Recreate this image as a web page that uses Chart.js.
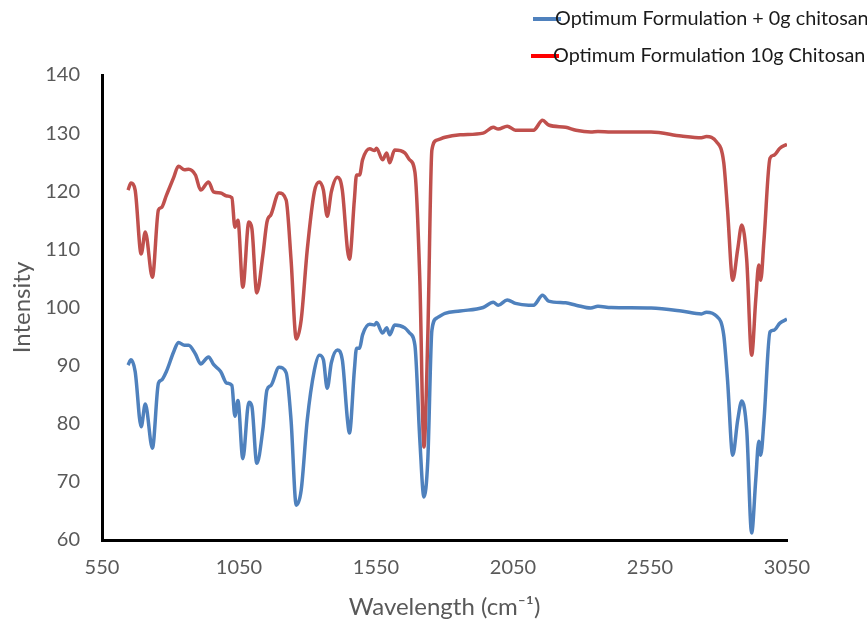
<!DOCTYPE html>
<html>
<head>
<meta charset="utf-8">
<script src="https://cdn.jsdelivr.net/npm/chart.js@4.4.1/dist/chart.umd.min.js"></script>
<style>
  body { margin: 0; background: #fff; }
  #wrap { position: relative; width: 867px; height: 624px; }
  .leg { position: absolute; font-family: Lato, "Open Sans", sans-serif; font-size: 19.8px; color: #1a1a1a; white-space: nowrap; }
  .leg i { position: absolute; height: 4px; width: 28px; left: -22px; top: 12px; }
</style>
</head>
<body>
<div id="wrap">
  <canvas id="FtirChart" width="867" height="624"></canvas>
  <div class="leg" style="left:555px; top:5px;"><i style="background:#4F81BD"></i><span style="position:relative">Optimum Formulation + 0g chitosan</span></div>
  <div class="leg" style="left:553px; top:42px;"><i style="background:#FF0000"></i><span style="position:relative">Optimum Formulation 10g Chitosan</span></div>
</div>
<script>
// wavenumbers
const wavenumbers = [645, 656, 671, 693, 708, 734, 756, 767, 785, 811, 829, 851, 866, 891, 910, 939, 957, 983, 1005, 1024,
  1035, 1046, 1064, 1086, 1097, 1115, 1137, 1152, 1167, 1196, 1222, 1240, 1259, 1277, 1299, 1325, 1343, 1358, 1372, 1387,
  1409, 1427, 1446, 1453, 1471, 1479, 1490, 1501, 1527, 1545, 1552, 1574, 1589, 1600, 1618, 1655, 1673, 1692, 1710, 1725,
  1739, 1754, 1772, 1802, 1857, 1941, 1978, 1996, 2029, 2059, 2107, 2125, 2158, 2180, 2242, 2280, 2334, 2360, 2408, 2554,
  2664, 2738, 2756, 2793, 2819, 2833, 2852, 2870, 2885, 2903, 2921, 2936, 2947, 2954, 2966, 2988, 3002, 3024, 3050];

// Optimum Formulation + 0g chitosan
const blankValues = [90.1, 91, 89, 79.5, 83.4, 75.8, 87, 87.5, 89, 92.3, 94, 93.5, 93.5, 92, 90.3, 91.5, 90.2, 89, 87, 86.6,
  81.3, 84, 74, 83.7, 83, 73.2, 79, 85.8, 86.6, 89.7, 88.8, 80.6, 66, 68.6, 80.6, 89.2, 91.8, 91, 86.1, 90.5,
  92.7, 91, 80.6, 78.4, 89.2, 93, 93, 95.3, 97.1, 97, 97.4, 95.6, 96.5, 95.3, 97, 96.5, 95.6, 93.5, 77.2, 67.4,
  73.7, 96.1, 98.2, 99, 99.4, 100, 100.9, 100.4, 101.3, 100.7, 100.4, 100.4, 102.1, 101.1, 100.8, 100.4, 99.9, 100.2, 100, 99.9,
  99.4, 98.9, 99.2, 98.5, 95.3, 87.5, 74.6, 80.6, 83.9, 78.9, 61.2, 70.4, 77, 74.6, 80.6, 95.8, 96.1, 97.3, 98];

// Optimum Formulation 10g Chitosan
const chitosanValues = [120.2, 121.4, 120.2, 109.2, 113, 105.2, 116.8, 117.2, 119.3, 122.3, 124.3, 123.7, 123.8, 122.8, 120.2, 121.6, 119.9, 119.7, 119.2, 118.9,
  113.8, 115, 103.5, 114.7, 113.6, 102.5, 109, 114.7, 116, 119.7, 118.5, 108.2, 94.6, 97.9, 109.9, 119.9, 121.6, 120.2, 115.7, 119.9,
  122.4, 120.2, 109.9, 108.3, 118.5, 122.8, 122.8, 125.4, 127.3, 127, 127.4, 125.4, 126.6, 124.9, 127.1, 126.6, 125.4, 123.3, 104.7, 76,
  95, 127.1, 128.8, 129.3, 129.7, 130, 131, 130.7, 131.2, 130.5, 130.5, 130.5, 132.2, 131.4, 131, 130.5, 130.2, 130.3, 130.2, 130.2,
  129.5, 129.2, 129.4, 128.5, 125, 116.8, 104.7, 110, 114.2, 108.2, 91.8, 101.4, 107.3, 104.7, 111.6, 125.7, 126.2, 127.4, 128.1];

const seriesNames = ['Optimum Formulation + 0g chitosan', 'Optimum Formulation 10g Chitosan'];

function toPoints(values) {
  return wavenumbers.map((w, i) => ({ x: w, y: values[i] }));
}

const fontFamily = 'Lato, "Open Sans", sans-serif';
const tickFont = { family: fontFamily, size: 20 };
const titleFont = { family: fontFamily, size: 24 };

const config = {
  type: 'line',
  data: {
    datasets: [
      {
        label: seriesNames[0],
        data: toPoints(blankValues),
        borderColor: '#4F81BD',
        borderWidth: 3.5,
        pointRadius: 0,
        cubicInterpolationMode: 'monotone',
        fill: false
      },
      {
        label: seriesNames[1],
        data: toPoints(chitosanValues),
        borderColor: '#C0504D',
        borderWidth: 3.5,
        pointRadius: 0,
        cubicInterpolationMode: 'monotone',
        fill: false
      }
    ]
  },
  options: {
    responsive: false,
    animation: false,
    layout: { padding: { left: 0, top: 75, right: 80, bottom: 0 } },
    plugins: { legend: { display: false }, tooltip: { enabled: false } },
    scales: {
      x: {
        type: 'linear',
        min: 550,
        max: 3050,
        grid: { display: false, drawTicks: false },
        border: { color: '#000', width: 3 },
        ticks: { stepSize: 500, color: '#595959', font: tickFont, padding: 16, maxRotation: 0, callback: v => String(v) },
        title: { display: true, text: 'Wavelength (cm\u207B\u00B9)', color: '#595959', font: titleFont, padding: { top: 0, bottom: 2 } },
        afterFit: scale => { scale.height = 84; }
      },
      y: {
        min: 60,
        max: 140,
        grid: { display: false, drawTicks: false },
        border: { color: '#000', width: 3 },
        ticks: { stepSize: 10, color: '#595959', font: tickFont, padding: 22, callback: v => String(v) },
        title: { display: true, text: 'Intensity', color: '#595959', font: titleFont, padding: { top: 8, bottom: 0 } },
        afterFit: scale => { scale.width = 102; }
      }
    }
  }
};

const ctx = document.getElementById('FtirChart').getContext('2d');
new Chart(ctx, config);
</script>
</body>
</html>
